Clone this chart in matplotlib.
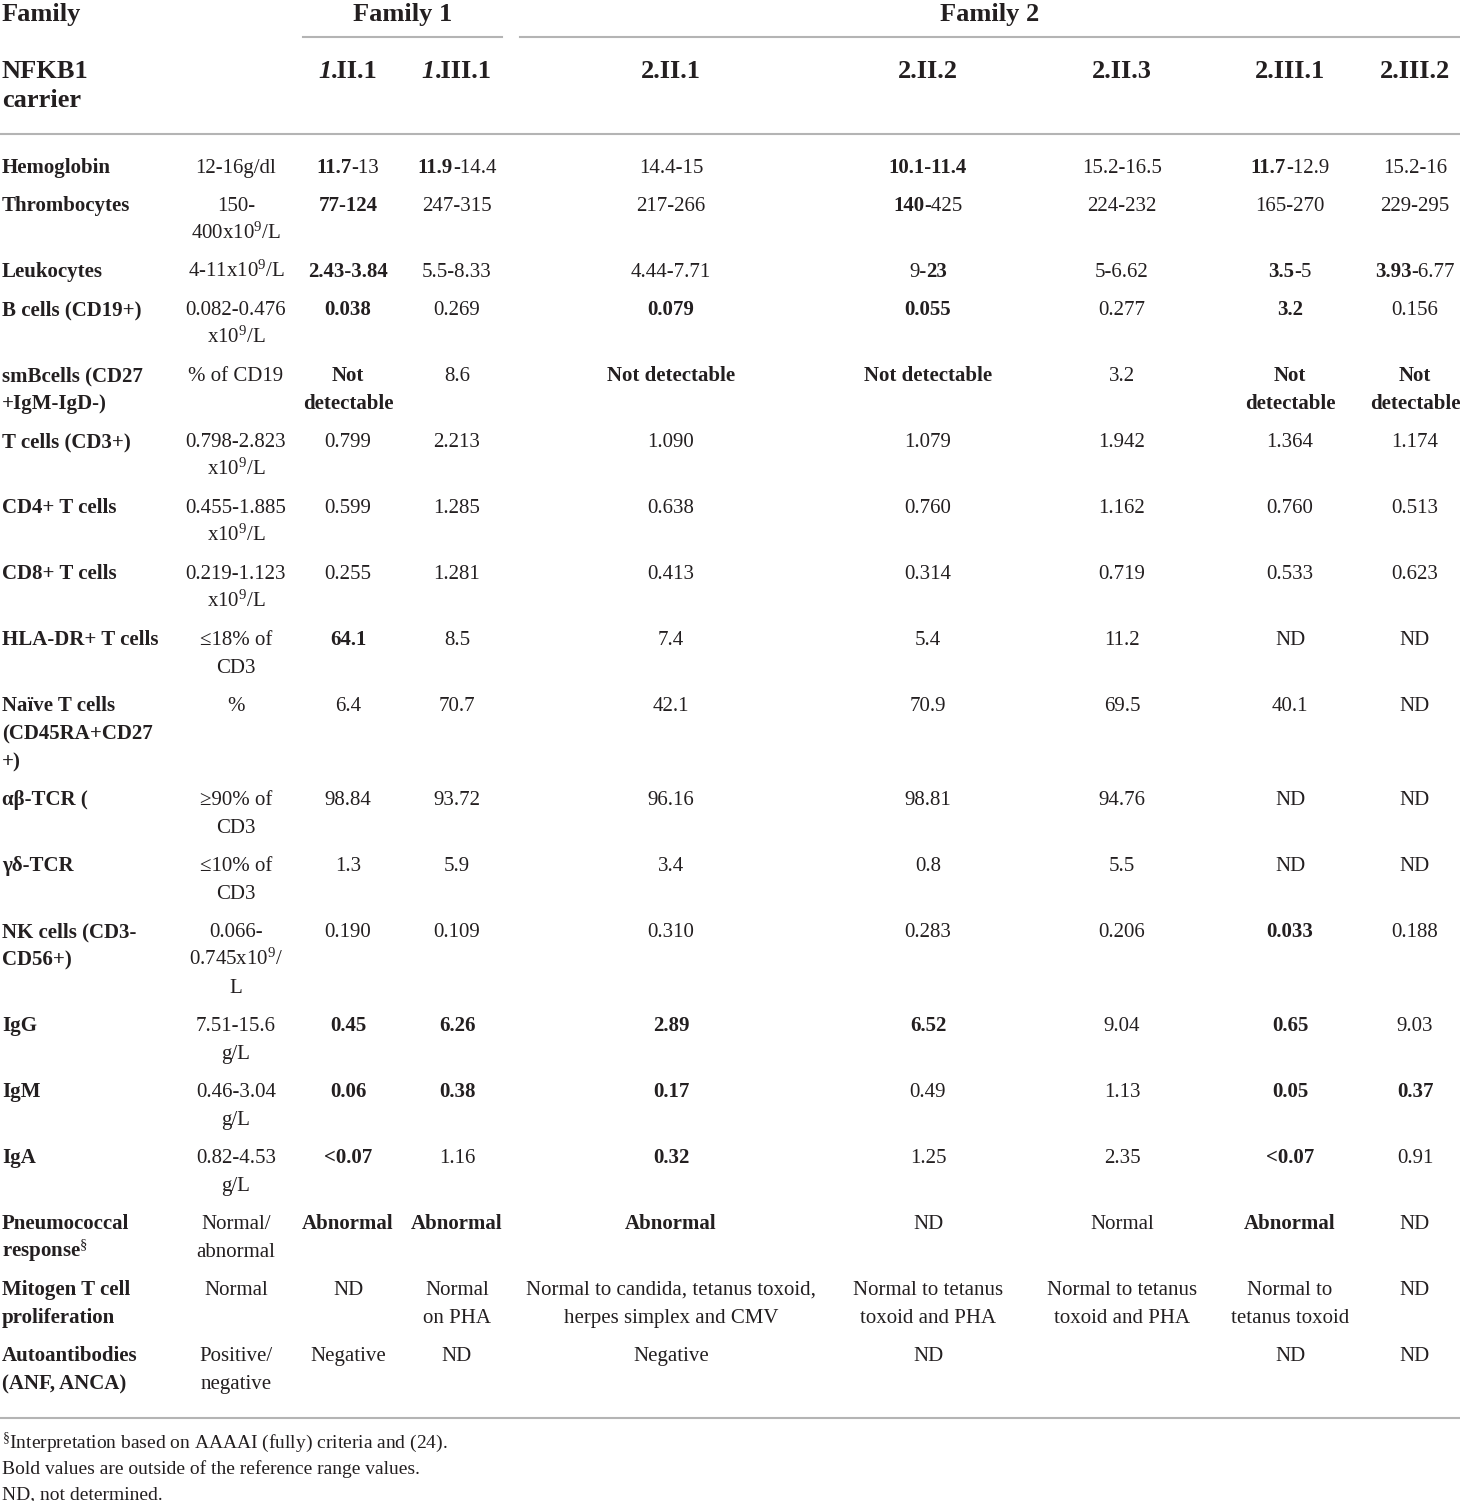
import matplotlib
matplotlib.use("Agg")
import matplotlib.pyplot as plt

plt.rcParams['font.family'] = ['Liberation Serif', 'DejaVu Serif']
plt.rcParams['mathtext.fontset'] = 'custom'
plt.rcParams['mathtext.rm'] = 'Liberation Serif'
plt.rcParams['mathtext.it'] = 'Liberation Serif:italic'
plt.rcParams['mathtext.bf'] = 'Liberation Serif:bold'

# Данные таблицы ("**" отмечает жирный фрагмент)
row_labels = ["Hemoglobin", "Thrombocytes", "Leukocytes", "B cells (CD19+)",
              "smBcells (CD27\n+IgM-IgD-)", "T cells (CD3+)", "CD4+ T cells",
              "CD8+ T cells", "HLA-DR+ T cells", "Naïve T cells\n(CD45RA+CD27\n+)",
              "αβ-TCR (", "γδ-TCR", "NK cells (CD3-\nCD56+)", "IgG", "IgM", "IgA",
              "Pneumococcal\nresponse$^\\S$", "Mitogen T cell\nproliferation",
              "Autoantibodies\n(ANF, ANCA)"]

ref_range = ["12-16g/dl", "150-\n400x10$^9$/L", "4-11x10$^9$/L", "0.082-0.476\nx10$^9$/L",
             "% of CD19", "0.798-2.823\nx10$^9$/L", "0.455-1.885\nx10$^9$/L",
             "0.219-1.123\nx10$^9$/L", "≤18% of\nCD3", "%", "≥90% of\nCD3", "≤10% of\nCD3",
             "0.066-\n0.745x10$^9$/\nL", "7.51-15.6\ng/L", "0.46-3.04\ng/L", "0.82-4.53\ng/L",
             "Normal/\nabnormal", "Normal", "Positive/\nnegative"]

p_1_II_1 = ["**11.7**-13", "**77-124**", "**2.43-3.84**", "**0.038**", "**Not\ndetectable**",
            "0.799", "0.599", "0.255", "**64.1**", "6.4", "98.84", "1.3", "0.190",
            "**0.45**", "**0.06**", "**<0.07**", "**Abnormal**", "ND", "Negative"]
p_1_III_1 = ["**11.9**-14.4", "247-315", "5.5-8.33", "0.269", "8.6", "2.213", "1.285",
             "1.281", "8.5", "70.7", "93.72", "5.9", "0.109", "**6.26**", "**0.38**",
             "1.16", "**Abnormal**", "Normal\non PHA", "ND"]
p_2_II_1 = ["14.4-15", "217-266", "4.44-7.71", "**0.079**", "**Not detectable**", "1.090",
            "0.638", "0.413", "7.4", "42.1", "96.16", "3.4", "0.310", "**2.89**", "**0.17**",
            "**0.32**", "**Abnormal**",
            "Normal to candida, tetanus toxoid,\nherpes simplex and CMV", "Negative"]
p_2_II_2 = ["**10.1-11.4**", "**140**-425", "9-**23**", "**0.055**", "**Not detectable**",
            "1.079", "0.760", "0.314", "5.4", "70.9", "98.81", "0.8", "0.283", "**6.52**",
            "0.49", "1.25", "ND", "Normal to tetanus\ntoxoid and PHA", "ND"]
p_2_II_3 = ["15.2-16.5", "224-232", "5-6.62", "0.277", "3.2", "1.942", "1.162", "0.719",
            "11.2", "69.5", "94.76", "5.5", "0.206", "9.04", "1.13", "2.35", "Normal",
            "Normal to tetanus\ntoxoid and PHA", ""]
p_2_III_1 = ["**11.7**-12.9", "165-270", "**3.5**-5", "**3.2**", "**Not\ndetectable**",
             "1.364", "0.760", "0.533", "ND", "40.1", "ND", "ND", "**0.033**", "**0.65**",
             "**0.05**", "**<0.07**", "**Abnormal**", "Normal to\ntetanus toxoid", "ND"]
p_2_III_2 = ["15.2-16", "229-295", "**3.93**-6.77", "0.156", "**Not\ndetectable**", "1.174",
             "0.513", "0.623", "ND", "ND", "ND", "ND", "0.188", "9.03", "**0.37**", "0.91",
             "ND", "ND", "ND"]

columns = [ref_range, p_1_II_1, p_1_III_1, p_2_II_1, p_2_II_2, p_2_II_3, p_2_III_1, p_2_III_2]
col_headers = [("", ""), ("1", ".II.1"), ("1", ".III.1"), ("", "2.II.1"), ("", "2.II.2"),
               ("", "2.II.3"), ("", "2.III.1"), ("", "2.III.2")]
col_x = [236, 348, 457, 671, 928, 1122, 1290, 1415]

footnotes = ["$^\\S$Interpretation based on AAAAI (fully) criteria and (24).",
             "Bold values are outside of the reference range values.",
             "ND, not determined."]

W, H = 1460, 1501
fig = plt.figure(figsize=(W / 100, H / 100), dpi=100)
ax = fig.add_axes([0, 0, 1, 1])
ax.set_xlim(0, W)
ax.set_ylim(H, 0)
ax.axis('off')
renderer = fig.canvas.get_renderer()

TXT = '#231f20'
LINE = '#b4b4b4'
FS = 15
HFS = 19
LH = 28


def draw_segments(segs, x, y, align='center', fs=FS):
    # segs: список (текст, жирный, курсив); выравнивание по центру вручную
    items = []
    for s, b, it in segs:
        if not s:
            continue
        t = ax.text(0, y, s, fontsize=fs, color=TXT, va='baseline', ha='left',
                    fontweight='bold' if b else 'normal',
                    fontstyle='italic' if it else 'normal')
        items.append(t)
    widths = [t.get_window_extent(renderer).width for t in items]
    total = sum(widths)
    x0 = x - total / 2 if align == 'center' else x
    for t, w in zip(items, widths):
        t.set_x(x0)
        x0 += w


def draw_cell(s, x, y, align='center', bold_all=False):
    bold = False
    for k, line in enumerate(s.split('\n')):
        parts = line.split('**')
        segs = []
        for i, p in enumerate(parts):
            if i > 0:
                bold = not bold
            segs.append((p, bold_all or bold, False))
        draw_segments(segs, x, y + k * LH, align)


def nlines(s):
    return s.count('\n') + 1


# Шапка
ax.text(2, 21, "Family", fontsize=HFS, fontweight='bold', color=TXT, va='baseline')
ax.text((303 + 502) / 2, 21, "Family 1", fontsize=HFS, fontweight='bold', color=TXT,
        va='baseline', ha='center')
ax.text((520 + 1460) / 2, 21, "Family 2", fontsize=HFS, fontweight='bold', color=TXT,
        va='baseline', ha='center')
ax.plot([303, 502], [37, 37], color=LINE, lw=1.5)
ax.plot([520, 1460], [37, 37], color=LINE, lw=1.5)
ax.text(2, 78, "NFKB1", fontsize=HFS, fontweight='bold', color=TXT, va='baseline')
ax.text(2, 107, "carrier", fontsize=HFS, fontweight='bold', color=TXT, va='baseline')
for (ital, rest), cx in zip(col_headers, col_x):
    draw_segments([(ital, True, True), (rest, True, False)], cx, 78, fs=HFS)
ax.plot([0, W], [134, 134], color=LINE, lw=1.5)

# Строки таблицы
y = 173
for r, lab in enumerate(row_labels):
    draw_cell(lab, 2, y, align='left', bold_all=True)
    n = nlines(lab)
    for col, cx in zip(columns, col_x):
        draw_cell(col[r], cx, y)
        n = max(n, nlines(col[r]))
    y += n * LH + 10

ax.plot([0, W], [1418, 1418], color=LINE, lw=1.5)

for k, f in enumerate(footnotes):
    ax.text(2, 1448 + k * 25.5, f, fontsize=14, color=TXT, va='baseline')

fig.savefig('out.png', dpi=100)
